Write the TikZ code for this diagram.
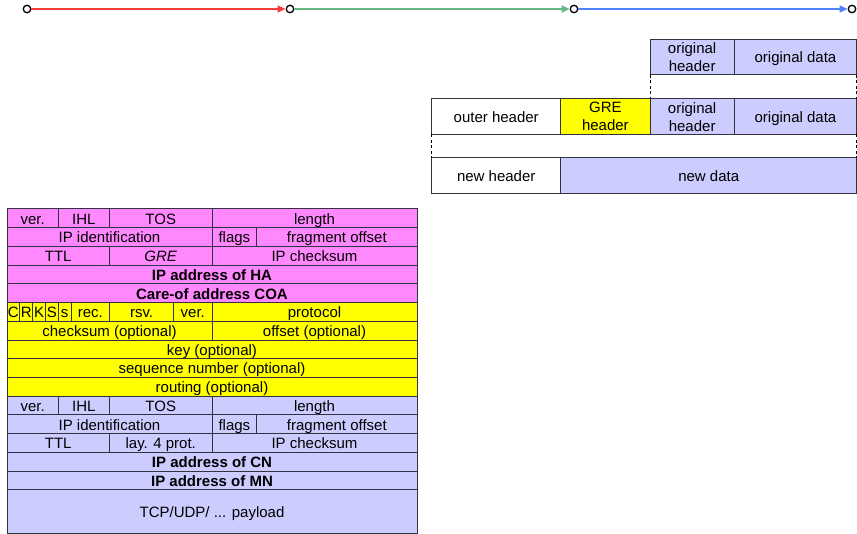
\documentclass[tikz,border=0pt]{standalone}
\usepackage{fontspec}
\setmainfont{Liberation Sans}
\usetikzlibrary{arrows.meta}
\definecolor{pinkf}{RGB}{255,136,255}
\definecolor{lavf}{RGB}{204,204,255}
\definecolor{yelf}{RGB}{255,255,0}
\definecolor{bord}{RGB}{50,50,64}
\definecolor{arrred}{RGB}{255,60,60}
\definecolor{arrgreen}{RGB}{100,185,135}
\definecolor{arrblue}{RGB}{80,130,255}
\tikzset{
  cellbox/.style={draw=bord, line width=1pt, inner sep=0pt, outer sep=0pt, rectangle,
    font=\fontsize{15}{18}\selectfont, text height=12.8pt, text depth=1.2pt},
  twoline/.style={text height=, text depth=, align=center},
  pk/.style={fill=pinkf}, lv/.style={fill=lavf}, yl/.style={fill=yelf}, wt/.style={fill=white},
  dot/.style={circle, draw=black, line width=1.3pt, fill=white, minimum size=7.5pt, inner sep=0pt},
  flow/.style={line width=1.4pt, -{Triangle[length=8pt,width=7pt]}},
  gap/.style={draw=black, line width=1pt, dash pattern=on 3pt off 2.5pt}
}
% \cell[style]{name}{x1}{x2}{row}{text}
\newcommand\cell[6][]{\node[cellbox,#1,minimum width={(#4-#3)*1pt}, minimum height=18.72pt, anchor=north west] (#2) at (#3, {209+#5*18.72}) {#6};}
% \bx[style]{name}{x1}{x2}{y1}{y2}{text}
\newcommand\bx[7][]{\node[cellbox,#1,minimum width={(#4-#3)*1pt}, minimum height={(#6-#5)*1pt}, anchor=north west] (#2) at (#3,#5) {#7};}
\begin{document}
\begin{tikzpicture}[x=1pt,y=-1pt]
\useasboundingbox (0,0) rectangle (857,534);
% top flow
\node[dot] (p0) at (27,9) {};
\node[dot] (p1) at (290,9) {};
\node[dot] (p2) at (574,9) {};
\node[dot] (p3) at (852,9) {};
\draw[flow, arrred] (p0) -- (p1);
\draw[flow, arrgreen] (p1) -- (p2);
\draw[flow, arrblue] (p2) -- (p3);
% encapsulation boxes
\bx[lv,twoline]{oh1}{650}{734.3}{39.3}{75}{original\\header}
\bx[lv]{od1}{734.3}{856.7}{39.3}{75}{original data}
\bx[wt]{outh}{431.7}{560.7}{99}{134.3}{outer header}
\bx[yl,twoline]{greh}{560.7}{650}{99}{134.3}{GRE\\header}
\bx[lv,twoline]{oh2}{650}{734.3}{99}{134.3}{original\\header}
\bx[lv]{od2}{734.3}{856.7}{99}{134.3}{original data}
\bx[wt]{newh}{431.7}{560.7}{157.7}{194}{new header}
\bx[lv]{newd}{560.7}{856.7}{157.7}{194}{new data}
\draw[gap] (oh1.south west) -- (oh2.north west);
\draw[gap] (od1.south east) -- (od2.north east);
\draw[gap] (outh.south west) -- (newh.north west);
\draw[gap] (od2.south east) -- (newd.north east);
% outer IP header
\cell[pk]{a1}{7}{58.25}{0}{ver.}
\cell[pk]{a2}{58.25}{109.5}{0}{IHL}
\cell[pk]{a3}{109.5}{212}{0}{TOS}
\cell[pk]{a4}{212}{417}{0}{length}
\cell[pk]{b1}{7}{212}{1}{IP identification}
\cell[pk]{b2}{212}{256.7}{1}{flags}
\cell[pk]{b3}{256.7}{417}{1}{fragment offset}
\cell[pk]{c1}{7}{109.5}{2}{TTL}
\cell[pk]{c2}{109.5}{212}{2}{\itshape GRE}
\cell[pk]{c3}{212}{417}{2}{IP checksum}
\cell[pk]{d1}{7}{417}{3}{\bfseries IP address of HA}
\cell[pk]{e1}{7}{417}{4}{\bfseries Care-of address COA}
% GRE header
\cell[yl]{f1}{7}{19.81}{5}{C}
\cell[yl]{f2}{19.81}{32.63}{5}{R}
\cell[yl]{f3}{32.63}{45.44}{5}{K}
\cell[yl]{f4}{45.44}{58.25}{5}{S}
\cell[yl]{f5}{58.25}{71.06}{5}{s}
\cell[yl]{f6}{71.06}{109.5}{5}{rec.}
\cell[yl]{f7}{109.5}{173.56}{5}{rsv.}
\cell[yl]{f8}{173.56}{212}{5}{ver.}
\cell[yl]{f9}{212}{417}{5}{protocol}
\cell[yl]{g1}{7}{212}{6}{checksum (optional)}
\cell[yl]{g2}{212}{417}{6}{offset (optional)}
\cell[yl]{h1}{7}{417}{7}{key (optional)}
\cell[yl]{i1}{7}{417}{8}{sequence number (optional)}
\cell[yl]{j1}{7}{417}{9}{routing (optional)}
% inner IP header
\cell[lv]{k1}{7}{58.25}{10}{ver.}
\cell[lv]{k2}{58.25}{109.5}{10}{IHL}
\cell[lv]{k3}{109.5}{212}{10}{TOS}
\cell[lv]{k4}{212}{417}{10}{length}
\cell[lv]{l1}{7}{212}{11}{IP identification}
\cell[lv]{l2}{212}{256.7}{11}{flags}
\cell[lv]{l3}{256.7}{417}{11}{fragment offset}
\cell[lv]{m1}{7}{109.5}{12}{TTL}
\cell[lv]{m2}{109.5}{212}{12}{lay. 4 prot.}
\cell[lv]{m3}{212}{417}{12}{IP checksum}
\cell[lv]{n1}{7}{417}{13}{\bfseries IP address of CN}
\cell[lv]{o1}{7}{417}{14}{\bfseries IP address of MN}
\bx[lv]{pl}{7}{417}{489.8}{533.4}{TCP/UDP/ ... payload}
\end{tikzpicture}
\end{document}
